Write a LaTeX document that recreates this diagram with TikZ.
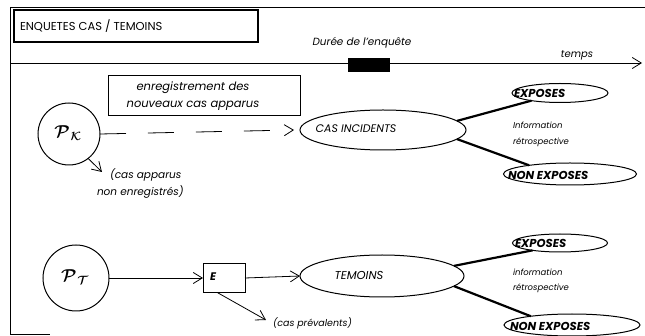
\documentclass[tikz,border=0pt]{standalone}
\usepackage{amsmath}
\usepackage{fontspec}
\setmainfont{Poppins}
\usetikzlibrary{arrows.meta,shapes.geometric}
\begin{document}
\begin{tikzpicture}[x=1pt,y=-1pt,
  every node/.style={inner sep=0pt, outer sep=0pt},
  barb/.style={-{Straight Barb[length=9pt,width=11pt,line width=0.8pt]}, line width=0.8pt},
  frameline/.style={line width=1pt},
  oval/.style={ellipse, draw, line width=1pt},
  thickline/.style={line width=2.2pt},
  pop/.style={circle, draw, line width=1pt},
  lbl/.style={font=\fontsize{10.5}{12}\selectfont\itshape},
  small/.style={font=\fontsize{8.5}{10}\selectfont\itshape},
  caps/.style={font=\fontsize{11}{13}\selectfont\itshape},
  boldcaps/.style={font=\fontsize{11.5}{13}\selectfont\bfseries\itshape},
]
\useasboundingbox (0,0) rectangle (645,336);
% frame
\coordinate (f1) at (645,8);
\coordinate (f2) at (10,8);
\coordinate (f3) at (10,335);
\coordinate (f4) at (50,335);
\draw[frameline] (f1) -- (f2) -- (f3) -- (f4);
% title
\node[draw, line width=1.6pt, minimum width=244pt, minimum height=32pt] (title) at (136,26) {};
\node[anchor=west, font=\fontsize{11.5}{13}\selectfont] (titlet) at (20,26) {ENQUETES CAS / TEMOINS};
% time axis
\coordinate (t0) at (10,63);
\coordinate (t1) at (642,63);
\draw[barb] (t0) -- (t1);
\node[fill=black, minimum width=42pt, minimum height=14pt] (blk) at (369,65) {};
\node[font=\fontsize{10.4}{12}\selectfont\itshape] (dur) at (362,43) {Durée de l'enquête};
\node[font=\fontsize{10}{12}\selectfont\itshape] (temps) at (577,55) {temps};
% upper row
\node[draw, line width=0.9pt, minimum width=192pt, minimum height=40pt] (regbox) at (204,95) {};
\node[align=center, font=\fontsize{11.5}{17}\selectfont\itshape] (regt) at (193,96) {enregistrement des\\nouveaux cas apparus};
\node[pop, minimum size=62pt] (PK) at (69,134) {};
\node (PKt) at (68,133) {\LARGE$\boldsymbol{\mathcal{P}_{\,\mathcal{K}}}$};
\node[oval, minimum width=166pt, minimum height=40pt] (CI) at (383,130) {};
\node[caps] (CIt) at (356,129) {CAS INCIDENTS};
\draw[barb, dash pattern=on 26pt off 22pt] (PK.east) -- ([xshift=-6pt]CI.west);
\coordinate (ka) at (102,172);
\draw[barb] (PK.-52) -- (ka);
\node[lbl, anchor=west] (kt1) at (110,175) {(cas apparus};
\node[lbl, anchor=west] (kt2) at (97,192) {non enregistrés)};
\node[oval, minimum width=96pt, minimum height=19pt] (e1) at (560,93) {};
\node[boldcaps, anchor=west] (e1t) at (514,93) {EXPOSES};
\node[oval, minimum width=133pt, minimum height=22pt] (e2) at (570,174) {};
\node[boldcaps, anchor=west] (e2t) at (508,175) {NON EXPOSES};
\draw[thickline] (CI.7) -- (e1.195);
\draw[thickline] (CI.-7) -- (e2.168);
\node[small, anchor=west] (i1) at (513,125) {Information};
\node[small, anchor=west] (r1) at (513,142) {rétrospective};
% lower row
\node[pop, minimum size=66pt] (PT) at (76,278) {};
\node (PTt) at (75,277) {\LARGE$\boldsymbol{\mathcal{P}_{\,\mathcal{T}}}$};
\node[draw, line width=0.9pt, minimum width=42pt, minimum height=29pt] (E) at (224,278) {};
\node[anchor=west, font=\fontsize{11}{12}\selectfont\bfseries\itshape] (Et) at (210,277) {E};
\node[oval, minimum width=164pt, minimum height=42pt] (TM) at (382,276) {};
\node[font=\fontsize{11.5}{13}\selectfont\itshape] (TMt) at (359,275) {TEMOINS};
\draw[barb] (PT.east) -- (E.west);
\draw[barb] (E.east) -- (TM.west);
\coordinate (pa) at (266,320);
\draw[barb] (E.-115) -- (pa);
\node[font=\fontsize{9.5}{12}\selectfont\itshape, anchor=west] (pt) at (273,323) {(cas prévalents)};
\node[oval, minimum width=95pt, minimum height=18pt] (e3) at (560,243) {};
\node[boldcaps, anchor=west] (e3t) at (515,243) {EXPOSES};
\node[oval, minimum width=136pt, minimum height=22pt] (e4) at (572,325) {};
\node[boldcaps, anchor=west] (e4t) at (510,326) {NON EXPOSES};
\draw[thickline] (TM.8) -- (e3.195);
\draw[thickline] (TM.-8) -- (e4.168);
\node[small, anchor=west] (i2) at (513,272) {information};
\node[small, anchor=west] (r2) at (513,288) {rétrospective};
\end{tikzpicture}
\end{document}
